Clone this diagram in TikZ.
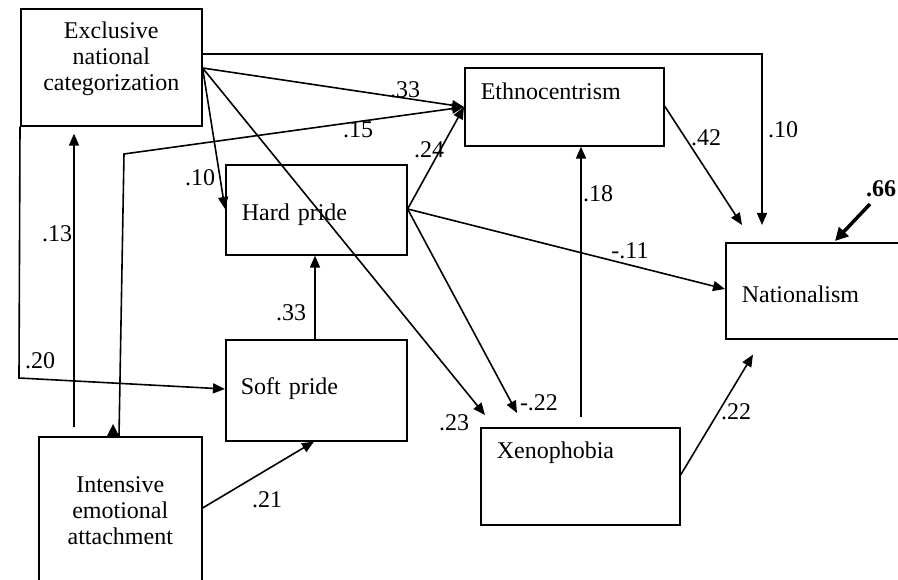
\documentclass[tikz,border=0pt]{standalone}
\usepackage{fontspec}
\setmainfont{Liberation Serif}
\usetikzlibrary{arrows.meta}
\begin{document}
\begin{tikzpicture}[x=1pt, y=-1pt, line width=1.6pt,
    font=\fontsize{24}{26}\selectfont,
    var/.style={draw, anchor=north west, inner ysep=0pt},
    effect/.style={-{Triangle[length=12pt,width=10pt]}},
    coef/.style={inner sep=0pt}]
  \useasboundingbox (0,0) rectangle (898,580);
  % variables
  \node[var, inner xsep=5pt, text width=171pt, align=center, text height=30pt, text depth=87pt] (excl) at (20,8) {Exclusive\\national\\categorization};
  \node[var, inner xsep=16pt, text width=167pt, align=left, text height=32pt, text depth=46pt] (ethno) at (464,67) {Ethnocentrism};
  \node[var, inner xsep=16pt, text width=149pt, align=left, text height=56pt, text depth=34pt] (hard) at (225,164) {Hard pride};
  \node[var, inner xsep=15pt, text width=151pt, align=left, text height=55pt, text depth=46pt] (soft) at (225,339) {Soft pride};
  \node[var, inner xsep=5pt, text width=153pt, align=center, text height=56pt, text depth=90pt] (inten) at (38,436) {Intensive\\emotional\\attachment};
  \node[var, inner xsep=16pt, text width=167pt, align=left, text height=31pt, text depth=66pt] (xeno) at (480,427) {Xenophobia};
  \node[var, inner xsep=16pt, text width=145pt, align=left, text height=60pt, text depth=36pt] (nat) at (725,242) {Nationalism};
  % paths
  \draw[effect] ([yshift=-46pt]excl.north east) -| ([xshift=37pt,yshift=17pt]nat.north west);
  \draw[effect] ([yshift=-60pt]excl.north east) -- ([yshift=-40pt]ethno.north west);
  \draw[effect] ([yshift=-60pt]excl.north east) -- ([yshift=-45pt]hard.north west);
  \draw[effect] ([yshift=-60pt]excl.north east) -- ([xshift=5pt,yshift=12pt]xeno.north west);
  \coordinate (bendA) at (124,154);
  \draw[effect] ([xshift=81pt]inten.north west) -- (bendA) -- ([yshift=-40pt]ethno.north west);
  \fill ([xshift=69pt]inten.north west) -- ++(12,0) -- ++(-6,-12) -- cycle;
  \coordinate (startB) at ([xshift=36pt,yshift=9pt]inten.north west);
  \draw[effect] (startB) -- ([xshift=54pt,yshift=-7pt]excl.south west);
  \coordinate (bendC) at (19,378);
  \draw[effect] (excl.south west) -- (bendC) -- ([yshift=-50pt]soft.north west);
  \draw[effect] ([xshift=90pt]soft.north west) -- ([xshift=90pt]hard.south west);
  \draw[effect] ([yshift=-72pt]inten.north east) -- ([xshift=89pt]soft.south west);
  \draw[effect] ([yshift=-45pt]hard.north east) -- ([yshift=-40pt]ethno.north west);
  \draw[effect] ([yshift=-45pt]hard.north east) -- ([yshift=-47pt]nat.north west);
  \draw[effect] ([yshift=-45pt]hard.north east) -- ([xshift=37pt,yshift=14pt]xeno.north west);
  \draw[effect] ([xshift=101pt,yshift=10pt]xeno.north west) -- ([xshift=117pt]ethno.south west);
  \draw[effect] ([yshift=-39pt]ethno.north east) -- ([xshift=17pt,yshift=17pt]nat.north west);
  \draw[effect] ([yshift=-48pt]xeno.north east) -- ([xshift=28pt,yshift=-15pt]nat.south west);
  \coordinate (errsrc) at (870,204);
  \draw[line width=3.5pt, -{Triangle[length=13pt,width=13pt]}] (errsrc) -- ([xshift=110pt,yshift=1pt]nat.north west);
  % coefficients
  \node[coef] (c10a) at (783,130) {.10};
  \node[coef] (c33a) at (405,90) {.33};
  \node[coef] (c15) at (358,130) {.15};
  \node[coef] (c24) at (429,150) {.24};
  \node[coef] (c10b) at (200,178) {.10};
  \node[coef] (c13) at (57,234) {.13};
  \node[coef] (c20) at (40,361) {.20};
  \node[coef] (c33b) at (291,313) {.33};
  \node[coef] (c21) at (267,500) {.21};
  \node[coef] (c23) at (454,423) {.23};
  \node[coef] (c22a) at (539,403) {-.22};
  \node[coef] (c18) at (598,194) {.18};
  \node[coef] (c11) at (630,251) {-.11};
  \node[coef] (c42) at (706,138) {.42};
  \node[coef] (c22b) at (736,412) {.22};
  \node[coef, font=\fontsize{24}{26}\selectfont\bfseries] (c66) at (881,189) {.66};
\end{tikzpicture}
\end{document}
